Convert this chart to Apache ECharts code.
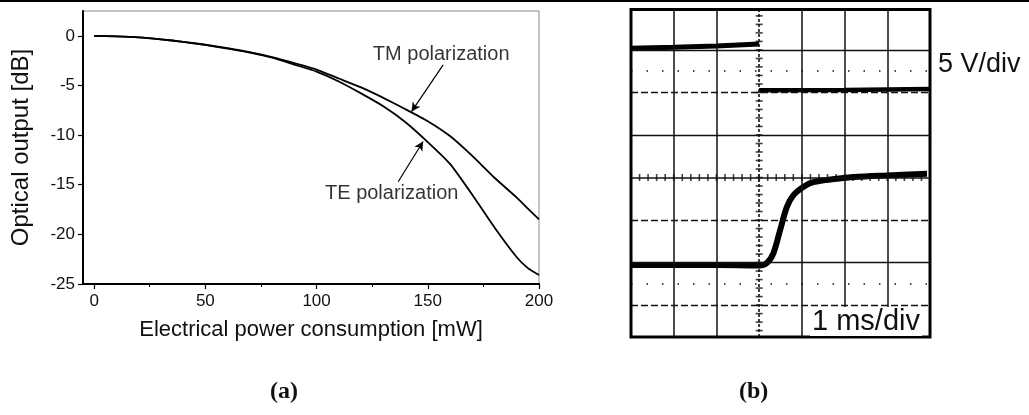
<!DOCTYPE html>
<html>
<head>
<meta charset="utf-8">
<script src="https://cdn.jsdelivr.net/npm/echarts@6/dist/echarts.min.js"></script>
<style>
  html, body { margin: 0; padding: 0; background: #fff; }
  #chart { width: 1029px; height: 415px; }
</style>
</head>
<body>
<div id="chart"></div>
<script>
// ---- (a) optical output versus electrical power ----
const power = [0, 10, 20, 30, 40, 50, 60, 70, 80, 90, 100, 110, 120, 130, 140, 150, 160, 170, 180, 190, 195, 200];
const tmOutput = [0, -0.05, -0.15, -0.35, -0.6, -0.9, -1.25, -1.65, -2.15, -2.75, -3.4, -4.3, -5.2, -6.25, -7.4, -8.6, -10.1, -12.1, -14.3, -16.3, -17.4, -18.5];
const teOutput = [0, -0.05, -0.15, -0.35, -0.6, -0.92, -1.3, -1.7, -2.2, -2.9, -3.6, -4.6, -5.8, -7.1, -8.7, -10.7, -12.9, -16.0, -19.3, -22.3, -23.4, -24.1];
const xTicks = [0, 50, 100, 150, 200];
const xMinorTicks = [25, 75, 125, 175];
const yTicks = [-25, -20, -15, -10, -5, 0];

// ---- (b) oscilloscope traces, in divisions (1 ms/div, 5 V/div) ----
const driveBefore = [[0, 6.04], [1, 6.06], [2, 6.09], [3, 6.14]];
const driveAfter = [[3, 5.05], [5, 5.06], [7, 5.08]];
const response = [[0, 0.94], [1, 0.94], [2, 0.94], [3.0, 0.93], [3.18, 0.99], [3.33, 1.21], [3.49, 1.76], [3.65, 2.31], [3.8, 2.58], [4.04, 2.78], [4.27, 2.89], [4.82, 2.97], [5.21, 3.01], [5.99, 3.05], [6.93, 3.09]];
const solidDivX = [1, 2, 4, 5, 6];
const solidDivY = [1, 4, 6];
const dashedDivY = [0, 2, 5];
const dottedDivY = [0.5, 5.5];
const centerDiv = [3, 3];

const FONT = "'Liberation Sans', Arial, sans-serif";

const toPairs = (xs, ys) => xs.map((x, i) => [x, ys[i]]);

// graticule ticks on the two centre axes, every 0.2 div
const hTicks = [], vTicks = [];
for (let i = 1; i < 35; i++) hTicks.push([i * 0.2, centerDiv[1]]);
for (let i = -3; i < 35; i++) vTicks.push([centerDiv[0], i * 0.2]);

const gratLines = [];
solidDivX.forEach(v => gratLines.push({ xAxis: v, lineStyle: { type: 'solid', width: 1.5 } }));
gratLines.push({ xAxis: centerDiv[0], lineStyle: { type: [3, 2], width: 1.6 } });
solidDivY.forEach(v => gratLines.push({ yAxis: v, lineStyle: { type: 'solid', width: 1.4 } }));
dashedDivY.forEach(v => gratLines.push({ yAxis: v, lineStyle: { type: [7, 3], width: 1.4 } }));
gratLines.push({ yAxis: centerDiv[1], lineStyle: { type: 'solid', width: 1.6 } });
dottedDivY.forEach(v => gratLines.push({ yAxis: v, lineStyle: { type: [1.5, 14], width: 1.5 } }));

const chart = echarts.init(document.getElementById('chart'), null, { renderer: 'canvas' });

chart.setOption({
  backgroundColor: '#fff',
  animation: false,
  grid: [
    { left: 83, top: 11, width: 456, height: 273, show: true, borderColor: '#8a8a8a', borderWidth: 1, backgroundColor: 'transparent' },
    { left: 631, top: 9.5, width: 299, height: 327.5, show: true, borderColor: '#000', borderWidth: 3, backgroundColor: 'transparent' }
  ],
  xAxis: [
    {
      type: 'value', gridIndex: 0, min: -5, max: 200, position: 'bottom',
      name: 'Electrical power consumption [mW]', nameLocation: 'middle', nameGap: 35,
      nameTextStyle: { fontFamily: FONT, fontSize: 22, color: '#111' },
      axisLine: { show: true, onZero: false, lineStyle: { color: '#000', width: 2 } },
      axisTick: { show: true, inside: false, length: 5, customValues: xTicks, lineStyle: { color: '#000', width: 1.2 } },
      axisLabel: { customValues: xTicks, margin: 9, fontFamily: FONT, fontSize: 17, color: '#111' },
      splitLine: { show: false }
    },
    {
      type: 'value', gridIndex: 0, min: -5, max: 200, position: 'bottom',
      axisLine: { show: false, onZero: false },
      axisTick: { show: true, inside: false, length: 3, customValues: xMinorTicks, lineStyle: { color: '#000', width: 1 } },
      axisLabel: { show: false },
      splitLine: { show: false }
    },
    {
      type: 'value', gridIndex: 1, min: 0, max: 7, show: false, splitLine: { show: false }
    }
  ],
  yAxis: [
    {
      type: 'value', gridIndex: 0, min: -25, max: 2.5,
      name: 'Optical output [dB]', nameLocation: 'middle', nameGap: 50, nameRotate: 90,
      nameTextStyle: { fontFamily: FONT, fontSize: 24, color: '#111' },
      axisLine: { show: true, onZero: false, lineStyle: { color: '#000', width: 2 } },
      axisTick: { show: true, inside: false, length: 5, customValues: yTicks, lineStyle: { color: '#000', width: 1.2 } },
      axisLabel: { customValues: yTicks, margin: 8, fontFamily: FONT, fontSize: 17, color: '#111' },
      splitLine: { show: false }
    },
    {
      type: 'value', gridIndex: 1, min: -0.75, max: 6.95, show: false, splitLine: { show: false }
    }
  ],
  series: [
    {
      name: 'TM', type: 'line', xAxisIndex: 0, yAxisIndex: 0,
      data: toPairs(power, tmOutput), smooth: 0.15, showSymbol: false,
      lineStyle: { color: '#000', width: 1.8 },
      markLine: {
        silent: true, symbol: ['none', 'arrow'], symbolSize: [7, 9],
        label: { show: false },
        lineStyle: { color: '#000', width: 1.2, type: 'solid' },
        data: [
          [{ coord: [156.9, -2.92] }, { coord: [142.7, -7.63] }],
          [{ coord: [136.7, -14.7] }, { coord: [147.9, -10.65] }]
        ]
      }
    },
    {
      name: 'TE', type: 'line', xAxisIndex: 0, yAxisIndex: 0,
      data: toPairs(power, teOutput), smooth: 0.15, showSymbol: false,
      lineStyle: { color: '#000', width: 1.8 }
    },
    {
      type: 'scatter', xAxisIndex: 0, yAxisIndex: 0, symbolSize: 0, silent: true,
      label: { show: true, position: 'right', distance: 0, formatter: p => p.name, fontFamily: FONT, fontSize: 20, color: '#000' },
      data: [
        { name: 'TM polarization', value: [125.3, -1.9] },
        { name: 'TE polarization', value: [103.8, -15.9] }
      ]
    },
    // graticule of the oscilloscope screen
    {
      type: 'line', xAxisIndex: 2, yAxisIndex: 1, data: [], silent: true,
      markLine: { silent: true, symbol: 'none', label: { show: false }, lineStyle: { color: '#111' }, data: gratLines }
    },
    {
      type: 'scatter', xAxisIndex: 2, yAxisIndex: 1, silent: true,
      symbol: 'rect', symbolSize: [1.6, 7], itemStyle: { color: '#111' }, data: hTicks
    },
    {
      type: 'scatter', xAxisIndex: 2, yAxisIndex: 1, silent: true,
      symbol: 'rect', symbolSize: [7, 1.6], itemStyle: { color: '#111' }, data: vTicks
    },
    // drive voltage trace
    {
      type: 'line', xAxisIndex: 2, yAxisIndex: 1, data: driveBefore, showSymbol: false,
      lineStyle: { color: '#000', width: 5 }
    },
    {
      type: 'line', xAxisIndex: 2, yAxisIndex: 1, data: driveAfter, showSymbol: false,
      lineStyle: { color: '#000', width: 4.5 }
    },
    // optical response trace
    {
      type: 'line', xAxisIndex: 2, yAxisIndex: 1, data: response, showSymbol: false, smooth: 0.35,
      lineStyle: { color: '#000', width: 6 }
    }
  ],
  graphic: [
    { type: 'rect', left: 0, top: 0, z: 100, shape: { width: 1029, height: 2 }, style: { fill: '#000' } },
    { type: 'text', left: 938, top: 51, z: 100, style: { text: '5 V/div', font: "27px 'Liberation Sans', Arial, sans-serif", fill: '#111' } },
    { type: 'text', left: 810, top: 307, z: 100, style: { text: '1 ms/div', font: "29px 'Liberation Sans', Arial, sans-serif", fill: '#111', backgroundColor: '#fff', padding: [0, 2, 0, 2] } },
    { type: 'text', left: 270, top: 380, z: 100, style: { text: '(a)', font: "bold 24px 'Liberation Serif', 'Times New Roman', serif", fill: '#111' } },
    { type: 'text', left: 739, top: 380, z: 100, style: { text: '(b)', font: "bold 24px 'Liberation Serif', 'Times New Roman', serif", fill: '#111' } }
  ]
});
</script>
</body>
</html>
